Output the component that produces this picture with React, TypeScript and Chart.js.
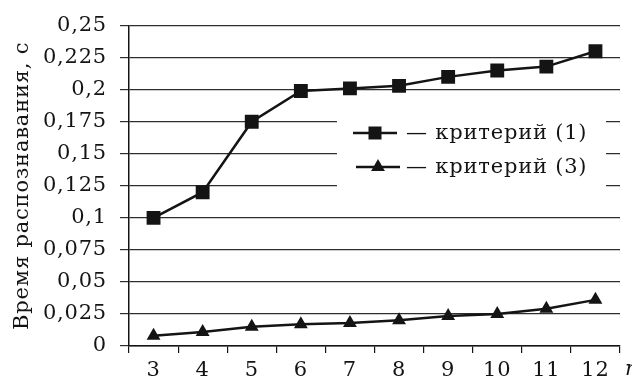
import React, { useEffect, useRef } from "react";
import { Chart, registerables } from "chart.js";

Chart.register(...registerables);

const categories = ["3", "4", "5", "6", "7", "8", "9", "10", "11", "12"];
const criterion1 = [0.1, 0.12, 0.175, 0.199, 0.201, 0.203, 0.21, 0.215, 0.218, 0.23];
const criterion3 = [0.008, 0.011, 0.015, 0.017, 0.018, 0.02, 0.0235, 0.025, 0.029, 0.036];
const seriesLabels = ["критерий (1)", "критерий (3)"];
const seriesMarkers = ["rect", "triangle"];
const yAxisTitle = "Время распознавания, с";
const xAxisName = "n";
const yMin = 0;
const yMax = 0.25;
const yStep = 0.025;

const FONT = '"DejaVu Serif", "Liberation Serif", serif';
const INK = "#141414";
const SPACING = "0.8px";
const FSIZE = 21;

const fmt = (v: number | string) =>
  String(Math.round(Number(v) * 1000) / 1000).replace(".", ",");

const spacingPlugin = {
  id: "spacing",
  beforeUpdate(chart: any) {
    chart.ctx.letterSpacing = SPACING;
  },
  beforeDraw(chart: any) {
    chart.ctx.letterSpacing = SPACING;
  },
};

const legendPlugin = {
  id: "customLegend",
  afterDatasetsDraw(chart: any) {
    const ctx = chart.ctx as CanvasRenderingContext2D;
    ctx.save();
    ctx.letterSpacing = SPACING;
    ctx.fillStyle = "#ffffff";
    ctx.fillRect(337, 114, 269, 77);
    chart.data.datasets.forEach((ds: any, i: number) => {
      const y = 133 + i * 34;
      const x0 = 353 + i * 3;
      ctx.strokeStyle = INK;
      ctx.lineWidth = 2.5;
      ctx.beginPath();
      ctx.moveTo(x0, y);
      ctx.lineTo(x0 + 44, y);
      ctx.stroke();
      ctx.fillStyle = INK;
      const cx = x0 + 22;
      if (seriesMarkers[i] === "rect") {
        ctx.fillRect(cx - 6.5, y - 6.5, 13, 13);
      } else {
        const r = 8;
        ctx.beginPath();
        ctx.moveTo(cx, y - r);
        ctx.lineTo(cx + r * 0.866, y + r / 2);
        ctx.lineTo(cx - r * 0.866, y + r / 2);
        ctx.closePath();
        ctx.fill();
      }
      ctx.font = `${FSIZE}px ${FONT}`;
      ctx.textBaseline = "middle";
      ctx.textAlign = "left";
      ctx.fillText("— " + ds.label, 406, y + 1);
    });
    ctx.restore();
  },
};

const axisNamePlugin = {
  id: "axisName",
  afterDraw(chart: any) {
    const ctx = chart.ctx as CanvasRenderingContext2D;
    const xs = chart.scales.x;
    ctx.save();
    ctx.fillStyle = INK;
    ctx.font = `italic ${FSIZE}px ${FONT}`;
    ctx.textAlign = "left";
    ctx.textBaseline = "middle";
    ctx.fillText(xAxisName, xs.right + 5, xs.top + 24);
    ctx.restore();
  },
};

export default function App() {
  const canvasRef = useRef<HTMLCanvasElement | null>(null);

  useEffect(() => {
    if (!canvasRef.current) return;
    const chart = new Chart(canvasRef.current, {
      type: "line",
      data: {
        labels: categories,
        datasets: [
          {
            label: seriesLabels[0],
            data: criterion1,
            borderColor: INK,
            backgroundColor: INK,
            borderWidth: 2.5,
            pointStyle: "rect",
            pointRadius: 9.8,
            pointBackgroundColor: INK,
            pointBorderWidth: 0,
            tension: 0,
          },
          {
            label: seriesLabels[1],
            data: criterion3,
            borderColor: INK,
            backgroundColor: INK,
            borderWidth: 2.5,
            pointStyle: "triangle",
            pointRadius: 8,
            pointBackgroundColor: INK,
            pointBorderWidth: 0,
            tension: 0,
          },
        ],
      },
      options: {
        responsive: false,
        animation: false,
        events: [],
        layout: { padding: { top: 22, right: 12, left: 0, bottom: 0 } },
        plugins: {
          legend: { display: false },
          tooltip: { enabled: false },
        },
        scales: {
          x: {
            type: "category",
            offset: true,
            grid: {
              offset: true,
              drawOnChartArea: false,
              drawTicks: true,
              tickLength: 7,
              color: INK,
              lineWidth: 1.2,
            },
            border: { display: true, color: INK, width: 1.5 },
            ticks: {
              padding: 5,
              color: INK,
              font: { family: FONT, size: FSIZE },
              maxRotation: 0,
              autoSkip: false,
            },
            afterFit: (s: any) => {
              s.height = 32;
            },
          },
          y: {
            min: yMin,
            max: yMax,
            ticks: {
              stepSize: yStep,
              padding: 13,
              color: INK,
              font: { family: FONT, size: FSIZE },
              callback: (v: any) => fmt(v),
            },
            grid: {
              color: "#2e2e2e",
              lineWidth: 1.2,
              tickLength: 9,
              drawTicks: true,
            },
            border: { display: true, color: INK, width: 1.5 },
            title: {
              display: true,
              text: yAxisTitle,
              color: INK,
              font: { family: FONT, size: FSIZE },
              padding: { top: 10, bottom: 0 },
            },
            afterFit: (s: any) => {
              s.width = 129;
            },
          },
        },
      },
      plugins: [spacingPlugin, legendPlugin, axisNamePlugin],
    } as any);
    return () => chart.destroy();
  }, []);

  return (
    <div style={{ position: "fixed", left: 0, top: 0, width: 632, height: 378, background: "#fff" }}>
      <canvas ref={canvasRef} width={632} height={378} style={{ display: "block" }} />
    </div>
  );
}
